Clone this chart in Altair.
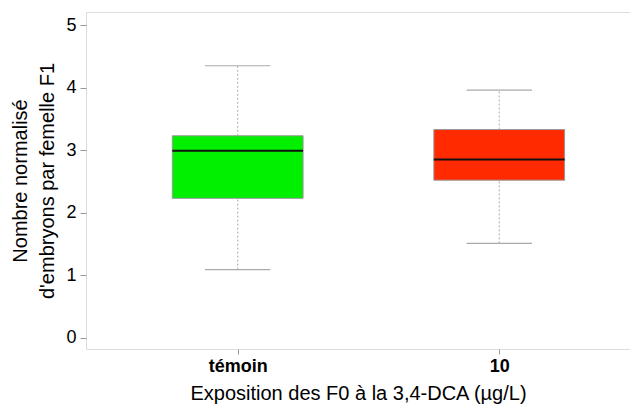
import altair as alt
import pandas as pd

groups = ["témoin", "10"]
positions = [1, 2]
whisker_low = [1.09, 1.51]
q1 = [2.23, 2.52]
median = [2.99, 2.85]
q3 = [3.23, 3.33]
whisker_high = [4.35, 3.96]
colors = ["#00f000", "#ff2a00"]

df = pd.DataFrame({
    "group": groups, "pos": positions, "lo": whisker_low, "q1": q1,
    "med": median, "q3": q3, "hi": whisker_high, "color": colors,
})

FONT = "Liberation Sans"
xscale = alt.Scale(domain=[0.42, 2.5], nice=False, zero=False)
yscale = alt.Scale(domain=[-0.18, 5.21], nice=False, zero=False)

base = alt.Chart(df).transform_calculate(
    bl="datum.pos - 0.25", br="datum.pos + 0.25",
    cl="datum.pos - 0.125", cr="datum.pos + 0.125",
)

xaxis = alt.Axis(
    values=[1, 2], labelExpr="datum.value == 1 ? 'témoin' : '10'",
    title="Exposition des F0 à la 3,4-DCA (µg/L)", grid=False, domain=False,
    labelFontWeight="bold", labelFontSize=18, labelColor="#000", labelFont=FONT,
    titleFont=FONT, titleFontSize=20, titleFontWeight="normal", titleColor="#000",
    tickColor="#999", tickSize=5, labelPadding=3, titlePadding=8,
)
yaxis = alt.Axis(
    values=[0, 1, 2, 3, 4, 5], format="d",
    title=["Nombre normalisé", "d'embryons par femelle F1"], grid=False, domain=False,
    labelFontSize=18, labelColor="#000", labelFont=FONT,
    titleFont=FONT, titleFontSize=20, titleFontWeight="normal", titleColor="#000",
    tickColor="#999", tickSize=6, labelPadding=4, titlePadding=8, titleLineHeight=27,
)

whisk_up = base.mark_rule(color="#aaa", strokeDash=[2, 2], strokeWidth=1).encode(
    x=alt.X("pos:Q", scale=xscale, axis=xaxis),
    y=alt.Y("q3:Q", scale=yscale, axis=yaxis),
    y2="hi:Q",
)
whisk_dn = base.mark_rule(color="#aaa", strokeDash=[2, 2], strokeWidth=1).encode(
    x=alt.X("pos:Q", scale=xscale), y=alt.Y("lo:Q", scale=yscale), y2="q1:Q",
)
cap_hi = base.mark_rule(color="#aaa", strokeWidth=1.2).encode(
    x=alt.X("cl:Q", scale=xscale), x2="cr:Q", y=alt.Y("hi:Q", scale=yscale),
)
cap_lo = base.mark_rule(color="#aaa", strokeWidth=1.2).encode(
    x=alt.X("cl:Q", scale=xscale), x2="cr:Q", y=alt.Y("lo:Q", scale=yscale),
)
box = base.mark_rect(stroke="#999", strokeWidth=1).encode(
    x=alt.X("bl:Q", scale=xscale), x2="br:Q",
    y=alt.Y("q1:Q", scale=yscale), y2="q3:Q",
    fill=alt.Fill("color:N", scale=None),
)
med = base.mark_rule(color="#111", strokeWidth=2).encode(
    x=alt.X("bl:Q", scale=xscale), x2="br:Q", y=alt.Y("med:Q", scale=yscale),
)

chart = alt.layer(whisk_up, whisk_dn, cap_hi, cap_lo, box, med).properties(
    width=544, height=337,
    autosize=alt.AutoSizeParams(type="none"),
    padding={"left": 78, "top": 4, "right": 0, "bottom": 55},
).configure_view(stroke="#999", strokeWidth=1).configure(background="white")

chart.save("out.html", embed_options={"renderer": "svg", "actions": False})
